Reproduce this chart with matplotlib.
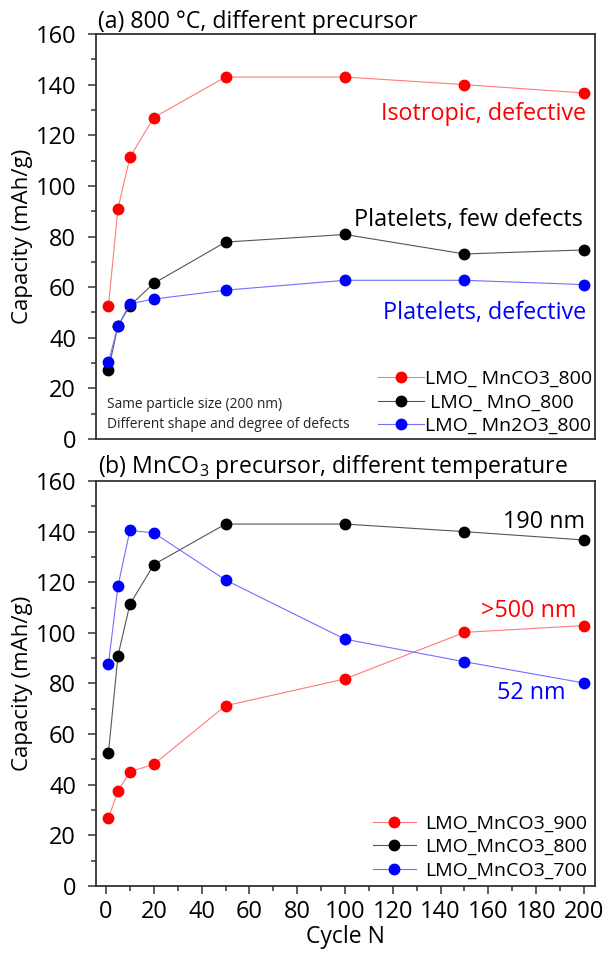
import numpy as np
import matplotlib
matplotlib.use("Agg")
import matplotlib.pyplot as plt
from matplotlib.ticker import MultipleLocator

plt.rcParams['font.family'] = ['Open Sans', 'DejaVu Sans']
plt.rcParams['mathtext.fontset'] = 'custom'
plt.rcParams['mathtext.rm'] = 'Open Sans'
plt.rcParams['mathtext.default'] = 'regular'

# --- data ---
cycles = [1, 5, 10, 20, 50, 100, 150, 200]

# (a) 800 C, different precursor
cap_mnco3_800 = [52.5, 91, 111.3, 127, 143, 143, 140, 136.7]
cap_mno_800 = [27.3, 44.7, 52.7, 61.5, 77.8, 80.8, 73.1, 74.7]
cap_mn2o3_800 = [30.4, 44.7, 53.4, 55.3, 58.8, 62.7, 62.7, 61]

# (b) MnCO3 precursor, different temperature
cap_mnco3_900 = [26.8, 37.5, 45.1, 48.1, 71.2, 81.8, 100.2, 102.9]
cap_mnco3_800b = [52.5, 91, 111.3, 127, 143, 143, 140, 136.7]
cap_mnco3_700 = [87.6, 118.5, 140.5, 139.5, 120.9, 97.5, 88.6, 80.2]

labels_a = ['LMO_ MnCO3_800', ' LMO_ MnO_800', 'LMO_ Mn2O3_800']
labels_b = ['LMO_MnCO3_900', 'LMO_MnCO3_800', 'LMO_MnCO3_700']

# line colour, marker colour
styles = [('#ff7a7a', '#ff0000'), ('#555555', '#000000'), ('#7070ff', '#0000ff')]

fig = plt.figure(figsize=(6.13, 9.55), dpi=100)
ax_a = fig.add_axes([0.1558, 0.5403, 0.8148, 0.4241])
ax_b = fig.add_axes([0.1558, 0.0723, 0.8148, 0.4240])

spine_col = '#333333'
note_fs = 16.8


def style_axes(ax, show_x):
    ax.set_xlim(-4.4, 204.6)
    ax.set_ylim(0, 160)
    ax.yaxis.set_major_locator(MultipleLocator(20))
    ax.yaxis.set_minor_locator(MultipleLocator(10))
    ax.xaxis.set_major_locator(MultipleLocator(20))
    ax.xaxis.set_minor_locator(MultipleLocator(10))
    for s in ax.spines.values():
        s.set_linewidth(1.3)
        s.set_color(spine_col)
    ax.tick_params(axis='both', which='major', direction='out', length=6,
                   width=1.1, color=spine_col, labelsize=17)
    ax.tick_params(axis='y', which='major', pad=8)
    ax.tick_params(axis='x', which='major', pad=4)
    ax.tick_params(axis='both', which='minor', direction='out', length=3.5,
                   width=1.1, color=spine_col)
    if not show_x:
        ax.tick_params(axis='x', which='both', bottom=False, labelbottom=False)
    ax.set_ylabel('Capacity (mAh/g)', fontsize=16)
    ax.yaxis.set_label_coords(-0.126, 0.5)


def draw(ax, series, labels):
    for ys, lab, (lc, mc) in zip(series, labels, styles):
        ax.plot(cycles, ys, '-', color=lc, lw=0.8, marker='o', ms=7.5,
                mfc=mc, mec=mc, label=lab)


# --- panel (a) ---
draw(ax_a, [cap_mnco3_800, cap_mno_800, cap_mn2o3_800], labels_a)
style_axes(ax_a, False)
ax_a.set_title('(a) 800 °C, different precursor', loc='left', fontsize=16.7,
               pad=3, x=0.005)
ax_a.text(200.7, 126.1, 'Isotropic, defective', color='#ff0000', ha='right',
          va='baseline', fontsize=note_fs)
ax_a.text(199.6, 84.3, 'Platelets, few defects', color='#000000', ha='right',
          va='baseline', fontsize=note_fs)
ax_a.text(200.7, 47.3, 'Platelets, defective', color='#0000ff', ha='right',
          va='baseline', fontsize=note_fs)
ax_a.text(0.3, 12.1, 'Same particle size (200 nm)', fontsize=9.9,
          color='#222222', va='baseline')
ax_a.text(0.3, 4.2, 'Different shape and degree of defects', fontsize=9.9,
          color='#222222', va='baseline')
ax_a.legend(loc='lower right', bbox_to_anchor=(0.995, 0.01), frameon=False,
            fontsize=14, handlelength=2.4, handletextpad=0.05,
            labelspacing=0.28, borderpad=0, borderaxespad=0)

# --- panel (b) ---
draw(ax_b, [cap_mnco3_900, cap_mnco3_800b, cap_mnco3_700], labels_b)
style_axes(ax_b, True)
ax_b.set_title(r'(b) MnCO$_3$ precursor, different temperature', loc='left',
               fontsize=16.6, pad=5, x=0.005)
ax_b.set_xlabel('Cycle N', fontsize=16.5, labelpad=1)
ax_b.text(200.4, 141.3, '190 nm', color='#000000', ha='right', va='baseline',
          fontsize=note_fs)
ax_b.text(197.0, 106.2, '>500 nm', color='#ff0000', ha='right', va='baseline',
          fontsize=note_fs)
ax_b.text(192.3, 73.9, '52 nm', color='#0000ff', ha='right', va='baseline',
          fontsize=note_fs)
ax_b.legend(loc='lower right', bbox_to_anchor=(0.985, 0.016), frameon=False,
            fontsize=14, handlelength=2.2, handletextpad=0.5,
            labelspacing=0.28, borderpad=0, borderaxespad=0)

fig.savefig('out.png', dpi=100)
